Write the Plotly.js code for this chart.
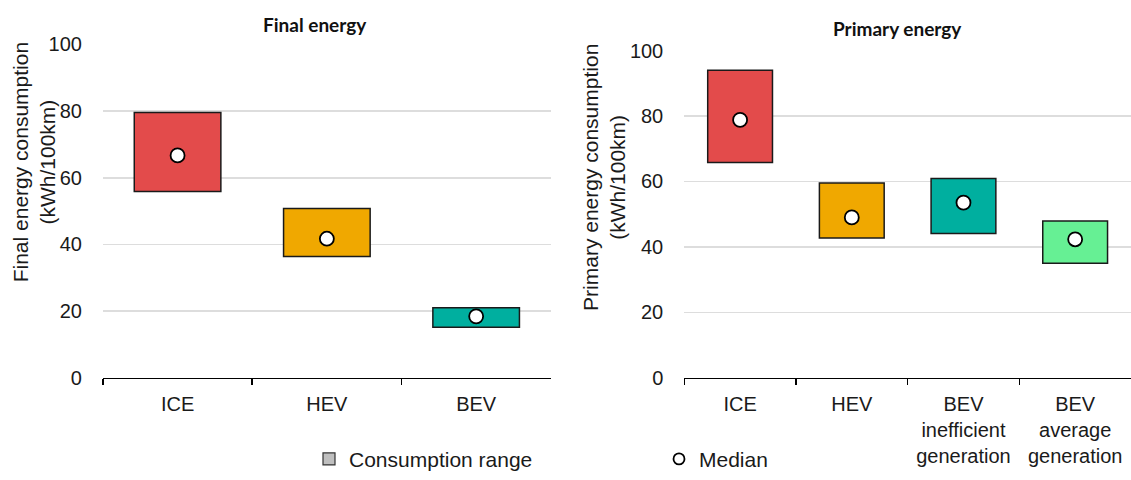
<!DOCTYPE html>
<html>
<head>
<meta charset="utf-8">
<script src="https://cdn.plot.ly/plotly-3.0.1.min.js"></script>
<style>html,body{margin:0;padding:0;background:#fff;}#chart{width:1131px;height:480px;}</style>
</head>
<body>
<div id="chart"></div>
<script>
// Final energy panel
const finalCategories = ["ICE", "HEV", "BEV"];
const finalLow = [55.9, 36.4, 15.1];
const finalHigh = [79.6, 50.8, 21.0];
const finalMedian = [66.7, 41.7, 18.4];
const finalColors = ["#E34B4B", "#F0A800", "#00AF9F"];

// Primary energy panel
const primaryCategories = ["ICE", "HEV", "BEV<br>inefficient<br>generation", "BEV<br>average<br>generation"];
const primaryLow = [65.8, 42.7, 44.1, 35.0];
const primaryHigh = [94.0, 59.5, 60.9, 47.9];
const primaryMedian = [78.8, 49.0, 53.5, 42.3];
const primaryColors = ["#E34B4B", "#F0A800", "#00AF9F", "#66F094"];

const yTicks = [0, 20, 40, 60, 80, 100];

const lineStyle = {color: "#1a1a1a", width: 1.5};
const font = "Liberation Sans, Arial, sans-serif";
const textColor = "#1a1a1a";

function rangeTrace(cats, low, high, colors, xa, ya) {
  return {
    type: "bar", x: cats, base: low,
    y: high.map((h, i) => h - low[i]),
    width: 0.58,
    marker: {color: colors, line: lineStyle},
    xaxis: xa, yaxis: ya, showlegend: false, hoverinfo: "skip"
  };
}
function medianTrace(cats, med, xa, ya) {
  return {
    type: "scatter", mode: "markers", x: cats, y: med,
    marker: {symbol: "circle", size: 14, color: "#ffffff", line: {color: "#000", width: 1.8}},
    xaxis: xa, yaxis: ya, showlegend: false, hoverinfo: "skip"
  };
}

const data = [
  rangeTrace(finalCategories, finalLow, finalHigh, finalColors, "x", "y"),
  medianTrace(finalCategories, finalMedian, "x", "y"),
  rangeTrace(primaryCategories, primaryLow, primaryHigh, primaryColors, "x2", "y2"),
  medianTrace(primaryCategories, primaryMedian, "x2", "y2"),
  {type: "bar", x: [null], y: [null], name: "Consumption range",
   marker: {color: "#BFBFBF", line: {color: "#333", width: 1.2}}, showlegend: true, xaxis: "x", yaxis: "y"},
  {type: "scatter", mode: "markers", x: [null], y: [null], name: "Median",
   marker: {symbol: "circle", size: 11, color: "#fff", line: {color: "#000", width: 1.8}}, showlegend: true, xaxis: "x", yaxis: "y"}
];

const xCommon = {
  type: "category", showline: true, linecolor: "#000", linewidth: 1.5,
  ticks: "outside", tickson: "boundaries", ticklen: 6, tickcolor: "#000", tickwidth: 1.5,
  showgrid: false, zeroline: false, automargin: false, ticklabelstandoff: 8,
  tickfont: {family: font, size: 20, color: textColor}, fixedrange: true
};
const yCommon = {
  range: [0, 100], tickvals: yTicks, showline: false, ticks: "", zeroline: false,
  showgrid: true, gridcolor: "#DDDDDD", gridwidth: 1.5, automargin: false, ticklabelstandoff: 20,
  tickfont: {family: font, size: 20, color: textColor}, fixedrange: true
};

const layout = {
  width: 1131, height: 480,
  margin: {l: 0, r: 0, t: 0, b: 0},
  paper_bgcolor: "#fff", plot_bgcolor: "#fff",
  xaxis: Object.assign({}, xCommon, {domain: [0.091, 0.487], anchor: "y"}),
  yaxis: Object.assign({}, yCommon, {domain: [0.193, 0.905], anchor: "x"}),
  xaxis2: Object.assign({}, xCommon, {domain: [0.605, 1.0], anchor: "y2"}),
  yaxis2: Object.assign({}, yCommon, {domain: [0.193, 0.892], anchor: "x2"}),
  annotations: [
    {text: "<b>Final energy</b>", xref: "paper", yref: "paper", x: 315/1131, y: 1 - 25/480,
     xanchor: "center", yanchor: "middle", showarrow: false, font: {family: "Lato, sans-serif", size: 19, color: "#111"}},
    {text: "<b>Primary energy</b>", xref: "paper", yref: "paper", x: 897/1131, y: 1 - 29/480,
     xanchor: "center", yanchor: "middle", showarrow: false, font: {family: "Lato, sans-serif", size: 19, color: "#111"}},
    {text: "Final energy consumption<br>(kWh/100km)", xref: "paper", yref: "paper", x: 33.5/1131, y: 1 - 167/480,
     xanchor: "center", yanchor: "middle", textangle: -90, showarrow: false, font: {family: font, size: 21, color: textColor}},
    {text: "Primary energy consumption<br>(kWh/100km)", xref: "paper", yref: "paper", x: 604.5/1131, y: 1 - 182/480,
     xanchor: "center", yanchor: "middle", textangle: -90, showarrow: false, font: {family: font, size: 21, color: textColor}}
  ],
  legend: {orientation: "h", x: 309/1131, y: 1 - 471/480, xanchor: "left", yanchor: "middle",
    entrywidth: 305, font: {family: font, size: 21, color: textColor}, bgcolor: "rgba(0,0,0,0)"},
  showlegend: true
};

Plotly.newPlot("chart", data, layout, {displayModeBar: false, staticPlot: true});
</script>
</body>
</html>
